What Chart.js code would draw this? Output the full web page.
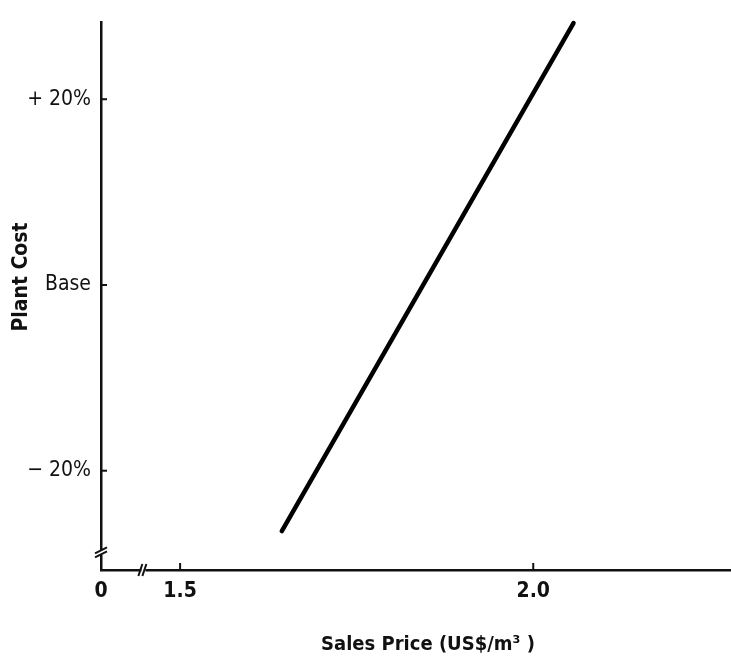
<!DOCTYPE html>
<html lang="en">
<head>
<meta charset="UTF-8">
<title>Plant Cost vs Sales Price</title>
<script src="https://cdn.jsdelivr.net/npm/chart.js@4.4.1/dist/chart.umd.min.js"></script>
<style>
  html, body { margin: 0; padding: 0; background: #fff; }
  #wrap { width: 731px; height: 661px; }
</style>
</head>
<body>
<div id="wrap"><canvas id="costChart"></canvas></div>
<script>
// break-even line: sales price (US$/m3) needed for each plant cost change
const salesPrice = [1.644, 2.057];
const plantCost = [-26.5, 28.2];

// x axis is broken between 0 and 1.5, so "0" sits just left of the break
const xTickValues = [1.388, 1.5, 2.0];
const xTickLabels = ['0', '1.5', '2.0'];
const yTickValues = [20, 0, -20];
const yTickLabels = ['+ 20%', 'Base', '\u2212 20%'];

const FONT = '"Liberation Sans Narrow", "DejaVu Sans Condensed", "Liberation Sans", Arial, sans-serif';

// inward tick marks, axis breaks and axis titles
const axisExtras = {
    id: 'axisExtras',
    afterDraw(chart) {
        const { ctx, chartArea, scales: { x, y } } = chart;
        const line = (x1, y1, x2, y2) => {
            ctx.beginPath();
            ctx.moveTo(x1, y1);
            ctx.lineTo(x2, y2);
            ctx.stroke();
        };
        ctx.save();
        ctx.strokeStyle = '#111';
        ctx.lineWidth = 2;

        yTickValues.forEach(v => {
            const py = y.getPixelForValue(v);
            line(chartArea.left, py, chartArea.left + 6, py);
        });
        xTickValues.slice(1).forEach(v => {
            const px = x.getPixelForValue(v);
            line(px, chartArea.bottom, px, chartArea.bottom - 7);
        });

        // break on the x axis
        const bx = x.getPixelForValue(1.448);
        const by = chartArea.bottom;
        ctx.fillStyle = '#fff';
        ctx.fillRect(bx - 2, by - 3, 4, 6);
        line(bx - 5, by + 6, bx - 1, by - 6);
        line(bx - 1, by + 6, bx + 3, by - 6);

        // break on the y axis
        const ax = chartArea.left;
        const ay = y.getPixelForValue(-28.8);
        ctx.fillRect(ax - 3, ay - 2, 6, 4);
        line(ax - 6, ay + 1, ax + 6, ay - 5);
        line(ax - 6, ay + 5, ax + 6, ay - 1);

        ctx.fillStyle = '#111';
        ctx.textAlign = 'center';
        ctx.textBaseline = 'middle';
        ctx.font = 'bold 20px ' + FONT;
        ctx.fillText('Sales Price (US$/m\u00b3 )', chartArea.left + 327, 645);

        ctx.font = 'bold 21px ' + FONT;
        ctx.translate(22, 277);
        ctx.rotate(-Math.PI / 2);
        ctx.fillText('Plant Cost', 0, 0);
        ctx.restore();
    }
};

new Chart(document.getElementById('costChart'), {
    type: 'line',
    data: {
        datasets: [{
            data: salesPrice.map((p, i) => ({ x: p, y: plantCost[i] })),
            borderColor: '#000',
            borderWidth: 4.5,
            borderCapStyle: 'round',
            pointRadius: 0,
            clip: false,
            fill: false
        }]
    },
    options: {
        responsive: true,
        maintainAspectRatio: false,
        animation: false,
        layout: { padding: { top: 13, right: 0, left: 0, bottom: 0 } },
        plugins: {
            legend: { display: false },
            tooltip: { enabled: false }
        },
        scales: {
            x: {
                type: 'linear',
                min: 1.388,
                max: 2.28,
                afterBuildTicks: scale => { scale.ticks = xTickValues.map(v => ({ value: v })); },
                afterFit: scale => { scale.height = 91; },
                grid: { display: false, drawTicks: false },
                border: { display: true, color: '#111', width: 2.5 },
                ticks: {
                    autoSkip: false,
                    maxRotation: 0,
                    padding: 9,
                    color: '#111',
                    font: { family: FONT, size: 21, weight: 'bold' },
                    callback: (v, i) => xTickLabels[i]
                }
            },
            y: {
                type: 'linear',
                min: -30.69,
                max: 28.25,
                afterBuildTicks: scale => { scale.ticks = yTickValues.map(v => ({ value: v })); },
                afterFit: scale => { scale.width = 101; },
                grid: { display: false, drawTicks: false },
                border: { display: true, color: '#111', width: 2.5 },
                ticks: {
                    autoSkip: false,
                    padding: 10,
                    color: '#111',
                    font: { family: FONT, size: 21 },
                    callback: (v, i) => yTickLabels[i]
                }
            }
        }
    },
    plugins: [axisExtras]
});
</script>
</body>
</html>
